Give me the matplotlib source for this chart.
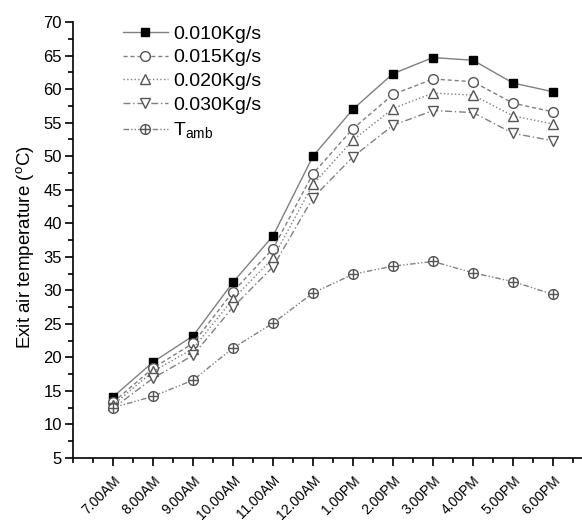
import matplotlib
matplotlib.use("Agg")
import matplotlib.pyplot as plt
from matplotlib.ticker import MultipleLocator, FixedLocator
from matplotlib.legend_handler import HandlerTuple

plt.rcParams['font.family'] = ['Liberation Sans', 'DejaVu Sans']
plt.rcParams['mathtext.fontset'] = 'custom'
plt.rcParams['mathtext.rm'] = 'Liberation Sans'
plt.rcParams['mathtext.it'] = 'Liberation Sans'

times = ["7.00AM", "8.00AM", "9.00AM", "10.00AM", "11.00AM", "12.00AM",
         "1.00PM", "2.00PM", "3.00PM", "4.00PM", "5.00PM", "6.00PM"]
m010 = [14.1, 19.3, 23.2, 31.2, 38.1, 50.0, 57.0, 62.3, 64.7, 64.3, 60.9, 59.6]
m015 = [13.3, 18.4, 22.1, 29.8, 36.2, 47.4, 54.1, 59.2, 61.5, 61.1, 57.9, 56.6]
m020 = [12.9, 17.9, 21.3, 28.7, 34.8, 45.8, 52.4, 57.1, 59.4, 59.1, 56.0, 54.8]
m030 = [12.4, 16.9, 20.3, 27.5, 33.5, 43.8, 49.9, 54.6, 56.8, 56.5, 53.4, 52.3]
tamb = [12.5, 14.2, 16.6, 21.4, 25.1, 29.6, 32.4, 33.6, 34.3, 32.6, 31.3, 29.4]

x = list(range(1, len(times) + 1))

fig = plt.figure(figsize=(5.82, 5.24), dpi=100)
ax = fig.add_axes([73/582, 1-458/524, 1-73/582, (458-22)/524])

lc = '#808080'
ec = '#555555'
l1, = ax.plot(x, m010, '-', color=lc, lw=1.0, marker='s', ms=6,
              mfc='black', mec='black', label='0.010Kg/s')
l2, = ax.plot(x, m015, '--', color=lc, lw=1.0, dashes=(3, 2), marker='o', ms=7,
              mfc='white', mec=ec, mew=1.0, label='0.015Kg/s')
l3, = ax.plot(x, m020, ':', color=lc, lw=1.0, marker='^', ms=7,
              mfc='white', mec=ec, mew=1.0, label='0.020Kg/s')
l4, = ax.plot(x, m030, '-.', color=lc, lw=1.0, dashes=(5, 2, 1, 2), marker='v', ms=7,
              mfc='white', mec=ec, mew=1.0, label='0.030Kg/s')
l5, = ax.plot(x, tamb, color=lc, lw=1.0, dashes=(4, 1.5, 1, 1.5, 1, 1.5),
              marker='o', ms=7, mfc='white', mec=ec, mew=1.0)
l5b, = ax.plot(x, tamb, ls='none', marker='+', ms=7, mec=ec, mew=1.0)

ax.set_xlim(0, (582-73)/40)
ax.set_ylim(5, 70)
ax.spines['top'].set_visible(False)
ax.spines['right'].set_visible(False)
ax.spines['left'].set_linewidth(1.2)
ax.spines['bottom'].set_linewidth(1.2)

ax.yaxis.set_major_locator(MultipleLocator(5))
ax.yaxis.set_minor_locator(MultipleLocator(2.5))
ax.xaxis.set_major_locator(FixedLocator(x))
ax.xaxis.set_minor_locator(MultipleLocator(0.5))
ax.tick_params(axis='both', which='major', direction='out', length=6, width=1.2)
ax.tick_params(axis='both', which='minor', direction='out', length=3.5, width=1.2)
ax.tick_params(axis='y', labelsize=12, pad=2)
ax.set_xticklabels(times, rotation=45, ha='right', va='top',
                   rotation_mode='anchor', fontsize=10)
ax.tick_params(axis='x', pad=5)

ax.set_ylabel('Exit air temperature ($^o$C)', fontsize=13.5)
ax.yaxis.set_label_coords(-0.072, 0.484)

leg = ax.legend([l1, l2, l3, l4, (l5, l5b)],
                ['0.010Kg/s', '0.015Kg/s', '0.020Kg/s', '0.030Kg/s', 'T$_{\\mathrm{amb}}$'],
                handler_map={tuple: HandlerTuple(ndivide=1, pad=0)},
                loc='upper left', bbox_to_anchor=(123/582, 1-25/524),
                bbox_transform=fig.transFigure, frameon=False, fontsize=14,
                handlelength=2.3, handletextpad=0.26, labelspacing=0.32,
                borderpad=0, borderaxespad=0)

fig.savefig('out.png', dpi=100)
